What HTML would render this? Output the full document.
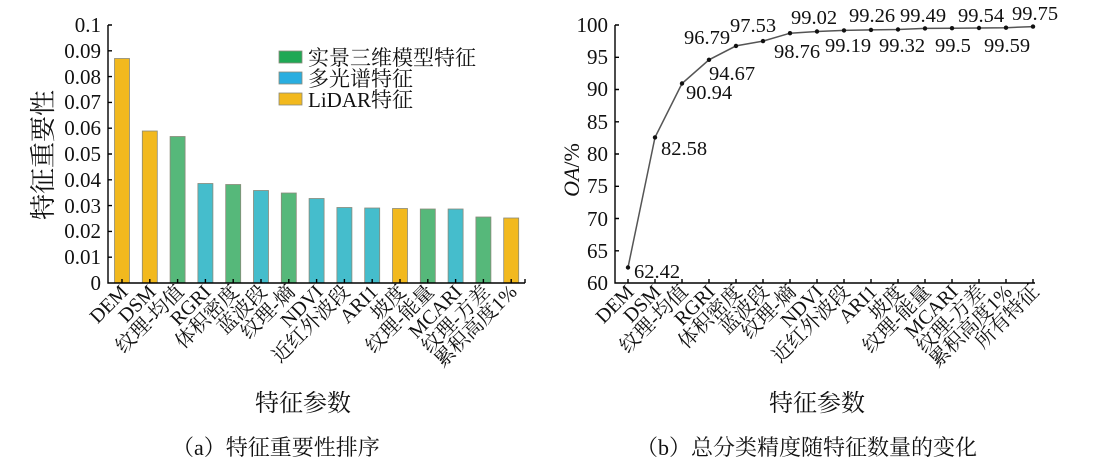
<!DOCTYPE html>
<html><head><meta charset="utf-8"><style>
html,body{margin:0;padding:0;background:#fff;}
svg{display:block;font-family:"Liberation Serif","Noto Serif CJK SC",serif;}
</style></head><body>
<svg width="1103" height="469" viewBox="0 0 1103 469" xmlns="http://www.w3.org/2000/svg">
<g id="left">
<g stroke="#8a8a7a" stroke-width="0.8">
<rect x="114.5" y="58.5" width="15" height="224.5" fill="#f2b91e"/>
<rect x="142.3" y="131" width="15" height="152" fill="#f2b91e"/>
<rect x="170.1" y="136.5" width="15" height="146.5" fill="#56b87a"/>
<rect x="197.9" y="183.5" width="15" height="99.5" fill="#45bdcc"/>
<rect x="225.7" y="184.5" width="15" height="98.5" fill="#56b87a"/>
<rect x="253.5" y="190.5" width="15" height="92.5" fill="#45bdcc"/>
<rect x="281.3" y="193" width="15" height="90" fill="#56b87a"/>
<rect x="309.1" y="198.5" width="15" height="84.5" fill="#45bdcc"/>
<rect x="336.9" y="207.5" width="15" height="75.5" fill="#45bdcc"/>
<rect x="364.7" y="208" width="15" height="75" fill="#45bdcc"/>
<rect x="392.5" y="208.5" width="15" height="74.5" fill="#f2b91e"/>
<rect x="420.3" y="209" width="15" height="74" fill="#56b87a"/>
<rect x="448.1" y="209" width="15" height="74" fill="#45bdcc"/>
<rect x="475.9" y="217" width="15" height="66" fill="#56b87a"/>
<rect x="503.7" y="218" width="15" height="65" fill="#f2b91e"/>
</g>
<g stroke="#000" stroke-width="1.4" fill="none">
<path d="M108 25 V283 H525"/>
<path d="M108 25h4M108 50.8h4M108 76.6h4M108 102.4h4M108 128.2h4M108 154h4M108 179.8h4M108 205.6h4M108 231.4h4M108 257.2h4"/>
<path d="M122 283v-4M149.8 283v-4M177.6 283v-4M205.4 283v-4M233.2 283v-4M261 283v-4M288.8 283v-4M316.6 283v-4M344.4 283v-4M372.2 283v-4M400 283v-4M427.8 283v-4M455.6 283v-4M483.4 283v-4M511.2 283v-4M525 283v-4"/>
</g>
<g font-size="21" text-anchor="end" fill="#111">
<text x="101" y="32">0.1</text><text x="101" y="58">0.09</text><text x="101" y="84">0.08</text><text x="101" y="109">0.07</text><text x="101" y="135">0.06</text><text x="101" y="161">0.05</text><text x="101" y="187">0.04</text><text x="101" y="213">0.03</text><text x="101" y="238">0.02</text><text x="101" y="264">0.01</text><text x="101" y="290">0</text>
</g>
<text transform="translate(52,155) rotate(-90)" font-size="26" text-anchor="middle" fill="#111">特征重要性</text>
<g stroke="#8a8a7a" stroke-width="0.8">
<rect x="279" y="51" width="23" height="12" fill="#1fa855"/>
<rect x="279" y="72" width="23" height="12" fill="#2aaee0"/>
<rect x="279" y="93" width="23" height="12" fill="#f2b91e"/>
</g>
<g font-size="21" fill="#111">
<text x="308" y="65">实景三维模型特征</text><text x="308" y="86">多光谱特征</text><text x="308" y="107">LiDAR特征</text>
</g>
<g font-size="20" text-anchor="end" fill="#111">
<text transform="translate(129,293) rotate(-45)">DEM</text>
<text transform="translate(157,293) rotate(-45)">DSM</text>
<text transform="translate(185,293) rotate(-45)">纹理-均值</text>
<text transform="translate(212,293) rotate(-45)">RGRI</text>
<text transform="translate(240,293) rotate(-45)">体积密度</text>
<text transform="translate(268,293) rotate(-45)">蓝波段</text>
<text transform="translate(296,293) rotate(-45)">纹理-熵</text>
<text transform="translate(324,293) rotate(-45)">NDVI</text>
<text transform="translate(351,293) rotate(-45)">近红外波段</text>
<text transform="translate(379,293) rotate(-45)">ARI1</text>
<text transform="translate(407,293) rotate(-45)">坡度</text>
<text transform="translate(435,293) rotate(-45)">纹理-能量</text>
<text transform="translate(463,293) rotate(-45)">MCARI</text>
<text transform="translate(491,293) rotate(-45)">纹理-方差</text>
<text transform="translate(518,293) rotate(-45)">累积高度1%</text>
</g>
<text x="303" y="411" font-size="24" text-anchor="middle" fill="#111">特征参数</text>
<text x="172" y="455" font-size="22" fill="#111">（a）特征重要性排序</text>
</g>

<g id="right">
<g stroke="#000" stroke-width="1.4" fill="none">
<path d="M615 25 V283 H1035"/>
<path d="M615 25h4M615 57.3h4M615 89.5h4M615 121.8h4M615 154h4M615 186.3h4M615 218.5h4M615 250.8h4"/>
<path d="M628 283v-4M655 283v-4M682 283v-4M709 283v-4M736 283v-4M763 283v-4M790 283v-4M817 283v-4M844 283v-4M871 283v-4M898 283v-4M925 283v-4M952 283v-4M979 283v-4M1006 283v-4M1033 283v-4"/>
</g>
<g font-size="21" text-anchor="end" fill="#111">
<text x="608" y="32">100</text><text x="608" y="64">95</text><text x="608" y="96">90</text><text x="608" y="129">85</text><text x="608" y="161">80</text><text x="608" y="193">75</text><text x="608" y="226">70</text><text x="608" y="258">65</text><text x="608" y="290">60</text>
</g>
<text transform="translate(579,170) rotate(-90)" font-size="22" text-anchor="middle" fill="#111"><tspan font-style="italic">OA</tspan>/%</text>
<polyline fill="none" stroke="#555" stroke-width="1.5" points="628,267.5 655,137.4 682,83.5 709,59.8 736,45.9 763,41.1 790,33.2 817,31.5 844,30.4 871,29.9 898,29.5 925,28.4 952,28.2 979,28.0 1006,27.7 1033,26.6"/>
<g fill="#111">
<circle cx="628" cy="267.5" r="2.2"/><circle cx="655" cy="137.4" r="2.2"/><circle cx="682" cy="83.5" r="2.2"/><circle cx="709" cy="59.8" r="2.2"/><circle cx="736" cy="45.9" r="2.2"/><circle cx="763" cy="41.1" r="2.2"/><circle cx="790" cy="33.2" r="2.2"/><circle cx="817" cy="31.5" r="2.2"/><circle cx="844" cy="30.4" r="2.2"/><circle cx="871" cy="29.9" r="2.2"/><circle cx="898" cy="29.5" r="2.2"/><circle cx="925" cy="28.4" r="2.2"/><circle cx="952" cy="28.2" r="2.2"/><circle cx="979" cy="28.0" r="2.2"/><circle cx="1006" cy="27.7" r="2.2"/><circle cx="1033" cy="26.6" r="2.2"/>
</g>
<g font-size="20.5" fill="#111">
<text x="634" y="278">62.42</text>
<text x="661" y="155">82.58</text>
<text x="686" y="99">90.94</text>
<text x="709" y="80">94.67</text>
<text x="684" y="44">96.79</text>
<text x="730" y="32">97.53</text>
<text x="774" y="58">98.76</text>
<text x="791" y="24">99.02</text>
<text x="825" y="52">99.19</text>
<text x="849" y="22">99.26</text>
<text x="879" y="52">99.32</text>
<text x="900" y="22">99.49</text>
<text x="935" y="52">99.5</text>
<text x="958" y="22">99.54</text>
<text x="984" y="52">99.59</text>
<text x="1012" y="20">99.75</text>
</g>
<g font-size="20" text-anchor="end" fill="#111">
<text transform="translate(635,293) rotate(-45)">DEM</text>
<text transform="translate(662,293) rotate(-45)">DSM</text>
<text transform="translate(689,293) rotate(-45)">纹理-均值</text>
<text transform="translate(716,293) rotate(-45)">RGRI</text>
<text transform="translate(743,293) rotate(-45)">体积密度</text>
<text transform="translate(770,293) rotate(-45)">蓝波段</text>
<text transform="translate(797,293) rotate(-45)">纹理-熵</text>
<text transform="translate(824,293) rotate(-45)">NDVI</text>
<text transform="translate(851,293) rotate(-45)">近红外波段</text>
<text transform="translate(878,293) rotate(-45)">ARI1</text>
<text transform="translate(905,293) rotate(-45)">坡度</text>
<text transform="translate(932,293) rotate(-45)">纹理-能量</text>
<text transform="translate(959,293) rotate(-45)">MCARI</text>
<text transform="translate(986,293) rotate(-45)">纹理-方差</text>
<text transform="translate(1013,293) rotate(-45)">累积高度1%</text>
<text transform="translate(1040,293) rotate(-45)">所有特征</text>
</g>
<text x="817" y="411" font-size="24" text-anchor="middle" fill="#111">特征参数</text>
<text x="636" y="455" font-size="22" fill="#111">（b）总分类精度随特征数量的变化</text>
</g>
</svg>
</body></html>
